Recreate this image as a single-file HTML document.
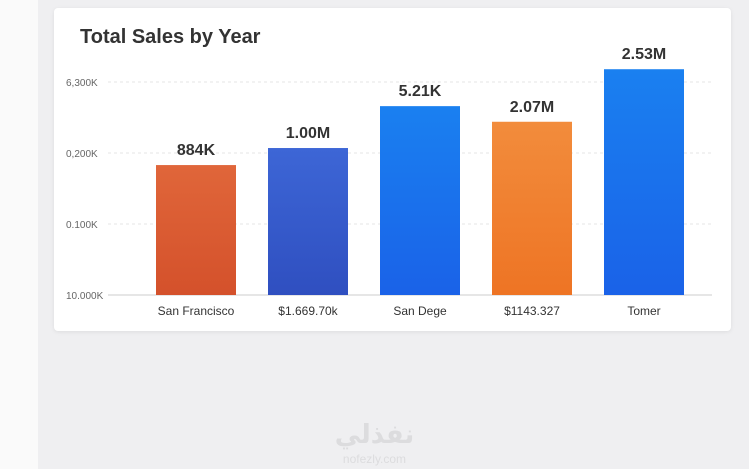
<!DOCTYPE html>
<html><head><meta charset="utf-8"><style>
body{margin:0;width:749px;height:469px;background:#efeff1;font-family:"Liberation Sans",sans-serif;overflow:hidden;position:relative}
#left{position:absolute;left:0;top:0;width:38px;height:469px;background:#fafafa}
#card{position:absolute;left:54px;top:8px;width:677px;height:323px;background:#fff;border-radius:4px;box-shadow:0 1px 4px rgba(0,0,0,0.08)}
#wm{position:absolute;left:0;width:749px;text-align:center;color:#dcdcde;font-family:"DejaVu Sans",sans-serif}
</style></head><body>
<div id="left"></div>
<div id="card"></div>
<svg id="chart" width="749" height="469" style="position:absolute;left:0;top:0">
<defs>
<linearGradient id="gOr" x1="0" y1="0" x2="0" y2="1"><stop offset="0" stop-color="#e0663a"/><stop offset="1" stop-color="#d4512b"/></linearGradient>
<linearGradient id="gNavy" x1="0" y1="0" x2="0" y2="1"><stop offset="0" stop-color="#3d66d6"/><stop offset="1" stop-color="#2f4fc0"/></linearGradient>
<linearGradient id="gBlue" x1="0" y1="0" x2="0" y2="1"><stop offset="0" stop-color="#1a80f0"/><stop offset="1" stop-color="#1a62e8"/></linearGradient>
<linearGradient id="gOr2" x1="0" y1="0" x2="0" y2="1"><stop offset="0" stop-color="#f28c3c"/><stop offset="1" stop-color="#ee7424"/></linearGradient>
</defs>
<text x="80" y="43" font-size="20" fill="#333" font-weight="bold">Total Sales by Year</text>
</svg>
<div id="wm" style="top:420px;font-size:26px;font-weight:bold">نفذلي</div>
<div id="wm2" style="position:absolute;left:0;width:749px;text-align:center;top:452px;font-size:12px;color:#dcdcde">nofezly.com</div>
<script>
const categories=["San Francisco","$1.669.70k","San Dege","$1143.327","Tomer"];
const values=[1.83,2.07,2.66,2.44,3.18];
const valueLabels=["884K","1.00M","5.21K","2.07M","2.53M"];
const tickValues=[0,1,2,3];
const tickLabels=["10.000K","0.100K","0,200K","6,300K"];
const fills=["url(#gOr)","url(#gNavy)","url(#gBlue)","url(#gOr2)","url(#gBlue)"];
const svg=document.getElementById('chart');
const NS="http://www.w3.org/2000/svg";
const y0=295,y1=82,gL=108,gR=712,xL=140,xR=700;
const yS=v=>y0-(v/3)*(y0-y1);
const step=(xR-xL)/categories.length;
const bw=80;
const xC=i=>xL+step*(i+0.5);
function mk(t,a){const e=document.createElementNS(NS,t);for(const k in a)e.setAttribute(k,a[k]);svg.appendChild(e);return e;}
tickValues.forEach((v,i)=>{
 const l=mk('line',{x1:gL,x2:gR,y1:yS(v),y2:yS(v),stroke:v===0?'#ccc':'#e4e4e4','stroke-dasharray':v===0?'':'3,3'});
 
 
 const t=mk('text',{x:66,y:yS(v)+4,'font-size':10,fill:'#666'});t.textContent=tickLabels[i];
 
 
});
categories.forEach((c,i)=>{
 const cx=xC(i);
 const r=mk('rect',{x:cx-bw/2,y:yS(values[i]),width:bw,height:y0-yS(values[i]),fill:fills[i]});
 
 
 const t=mk('text',{x:cx,y:yS(values[i])-10,'font-size':16,'font-weight':'bold','text-anchor':'middle',fill:'#333'});t.textContent=valueLabels[i];
 
 
 const xl=mk('text',{x:cx,y:315,'font-size':12,'text-anchor':'middle',fill:'#333'});xl.textContent=c;
 
 
});
</script>
</body></html>
